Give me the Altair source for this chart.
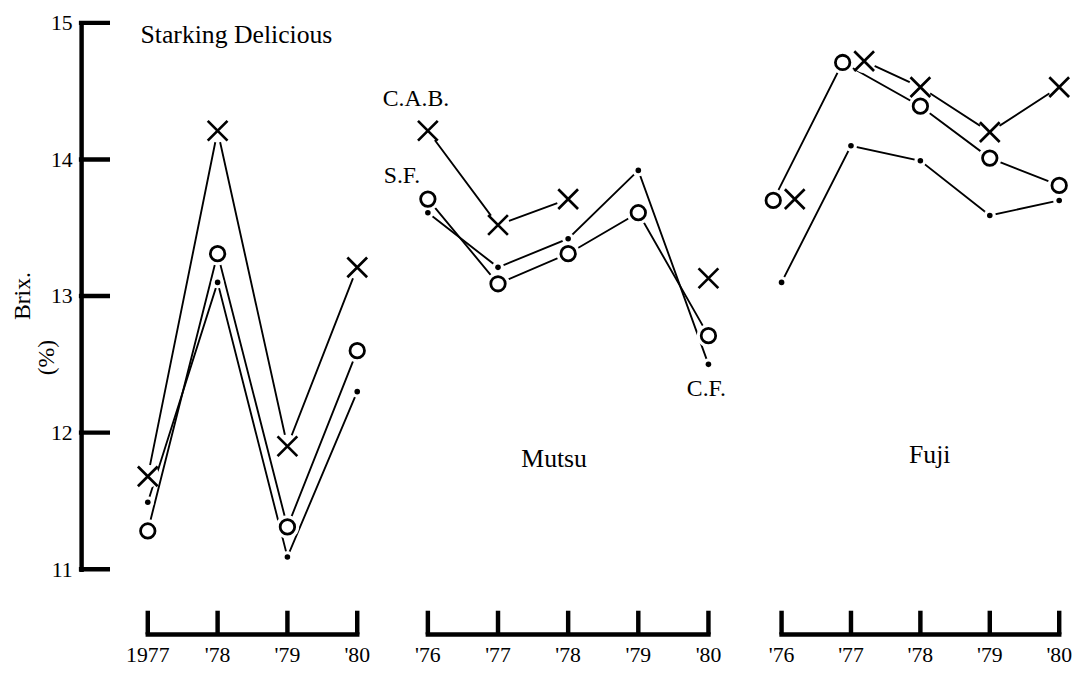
import altair as alt
import pandas as pd

FONT = "Liberation Serif"

# ---------------- data ----------------
series = ["C.A.B.", "S.F.", "C.F."]

sd_years = [1977, 1978, 1979, 1980]
sd_labels = ["1977", "'78", "'79", "'80"]
sd_cab = [11.68, 14.21, 11.90, 13.21]
sd_sf = [11.28, 13.31, 11.31, 12.60]
sd_cf = [11.49, 13.10, 11.09, 12.30]

mu_years = [1976, 1977, 1978, 1979, 1980]
mu_labels = ["'76", "'77", "'78", "'79", "'80"]
mu_cab = [14.21, 13.52, 13.71, None, 13.13]
mu_sf = [13.71, 13.09, 13.31, 13.61, 12.71]
mu_cf = [13.61, 13.21, 13.42, 13.92, 12.50]

fu_years = [1976, 1977, 1978, 1979, 1980]
fu_labels = ["'76", "'77", "'78", "'79", "'80"]
fu_cab = [13.71, 14.72, 14.53, 14.20, 14.53]
fu_sf = [13.70, 14.71, 14.39, 14.01, 13.81]
fu_cf = [13.10, 14.10, 13.99, 13.59, 13.70]

# points that are not joined to the next year
unjoined = [("Fuji", "C.A.B.", 1976)]

# annotations
ann_variety = ["Starking Delicious", "Mutsu", "Mutsu", "Mutsu", "Mutsu", "Fuji"]
ann_text = ["Starking Delicious", "C.A.B.", "S.F.", "C.F.", "Mutsu", "Fuji"]
ann_year = [1978.27, 1975.83, 1975.63, 1979.97, 1977.80, 1978.135]
ann_value = [14.85, 14.39, 13.83, 12.27, 11.745, 11.78]

ytitle_text = ["Brix.", "(%)"]
ytitle_year = [1975.31, 1975.66]
ytitle_value = [13.00, 12.55]

y_ticks = [11, 12, 13, 14, 15]

groups = [
    ("Starking Delicious", sd_years, sd_labels, [sd_cab, sd_sf, sd_cf]),
    ("Mutsu", mu_years, mu_labels, [mu_cab, mu_sf, mu_cf]),
    ("Fuji", fu_years, fu_labels, [fu_cab, fu_sf, fu_cf]),
]

rows = []
for v, yrs, _, vals_list in groups:
    for s, vals in zip(series, vals_list):
        seg = 0
        prev = None
        for yr, val in zip(yrs, vals):
            if val is None:
                seg += 1
                prev = None
                continue
            if prev is not None and (v, s, prev) in unjoined:
                seg += 1
            rows.append(dict(variety=v, series=s, year=yr, value=val,
                             seg=f"{v}|{s}|{seg}"))
            prev = yr
df = pd.DataFrame(rows)
ann_df = pd.DataFrame(dict(variety=ann_variety, text=ann_text,
                           year=ann_year, value=ann_value))
yt_df = pd.DataFrame(dict(text=ytitle_text, year=ytitle_year, value=ytitle_value))
tick_df = pd.DataFrame(dict(t=y_ticks))

# ---------------- layout ----------------
layout = {
    "Starking Delicious": ([1976.045, 1980.078], 285),
    "Mutsu": ([1975.634, 1980.113], 318),
    "Fuji": ([1975.63, 1980.128], 316),
}

XPATH = "M-1,-1L1,1M-1,1L1,-1"
DODGE = ("datum.year + ((datum.variety == 'Fuji' && datum.year <= 1977) ? "
         "(datum.series == 'C.A.B.' ? 0.19 : (datum.series == 'S.F.' ? -0.12 : 0)) : 0)")

yscale = alt.Scale(domain=[11, 15], nice=False, zero=False)
yaxis = alt.Axis(values=y_ticks, format="d", ticks=False, grid=False, title=None,
                 domainColor="black", domainWidth=4.5, domainCap="square",
                 labelFont=FONT, labelFontSize=22, labelColor="black",
                 labelPadding=9)


def top_panel(v, first):
    dom, w = layout[v]
    xs = alt.Scale(domain=dom, nice=False, zero=False)
    X = alt.X("xpos:Q", scale=xs, axis=None)
    Y = alt.Y("value:Q", scale=yscale, axis=yaxis if first else None)
    base = alt.Chart(df).transform_filter(alt.datum.variety == v).transform_calculate(xpos=DODGE)
    lines = base.mark_line(color="black", strokeWidth=1.9).encode(x=X, y=Y, detail="seg:N")
    halo = base.mark_circle(color="white", opacity=1).encode(
        x=X, y=Y,
        size=alt.condition(alt.datum.series == "C.F.", alt.value(150), alt.value(560)))
    cab = base.transform_filter(alt.datum.series == "C.A.B.").mark_point(
        shape=XPATH, size=400, strokeWidth=2.7, color="black", filled=False, opacity=1
    ).encode(x=X, y=Y)
    sf = base.transform_filter(alt.datum.series == "S.F.").mark_point(
        shape="circle", size=215, strokeWidth=2.8, color="black", filled=False, opacity=1
    ).encode(x=X, y=Y)
    cf = base.transform_filter(alt.datum.series == "C.F.").mark_circle(
        size=32, color="black", opacity=1
    ).encode(x=X, y=Y)
    texts = alt.Chart(ann_df).transform_filter(alt.datum.variety == v).mark_text(
        font=FONT, color="black", baseline="alphabetic", align="center"
    ).encode(x=alt.X("year:Q", scale=xs, axis=None),
             y=alt.Y("value:Q", scale=yscale, axis=yaxis if first else None),
             text="text:N",
             size=alt.condition("datum.text == 'C.A.B.' || datum.text == 'S.F.' || datum.text == 'C.F.'",
                                alt.value(24), alt.value(26)))
    layers = [lines, halo, cab, sf, cf, texts]
    if first:
        stubs = alt.Chart(tick_df).mark_rule(color="black", strokeWidth=4.5, strokeCap="square").encode(
            y=alt.Y("t:Q", scale=yscale, axis=yaxis), x=alt.value(0), x2=alt.value(27))
        ytitle = alt.Chart(yt_df).mark_text(
            font=FONT, fontSize=24, color="black", baseline="alphabetic", align="center", angle=270
        ).encode(x=alt.X("year:Q", scale=xs, axis=None),
                 y=alt.Y("value:Q", scale=yscale, axis=yaxis), text="text:N")
        layers = [stubs] + layers + [ytitle]
    return alt.layer(*layers).properties(width=w, height=553)


def axis_panel(v, yrs, labels):
    dom, w = layout[v]
    xs = alt.Scale(domain=dom, nice=False, zero=False)
    ys = alt.Scale(domain=[0, 1], nice=False, zero=False)
    d = pd.DataFrame(dict(year=yrs, label=labels))
    base = alt.Chart(d).transform_calculate(lo="0", hi="1")
    ticks = base.mark_rule(color="black", strokeWidth=4.5).encode(
        x=alt.X("year:Q", scale=xs, axis=None),
        y=alt.Y("lo:Q", scale=ys, axis=None), y2="hi:Q")
    baseline = base.transform_aggregate(start="min(year)", end="max(year)").transform_calculate(
        lo="0").mark_rule(color="black", strokeWidth=4.5, strokeCap="square").encode(
        x=alt.X("start:Q", scale=xs, axis=None), x2="end:Q",
        y=alt.Y("lo:Q", scale=ys, axis=None))
    text = base.mark_text(font=FONT, fontSize=22, color="black", baseline="middle", dy=21).encode(
        x=alt.X("year:Q", scale=xs, axis=None),
        y=alt.Y("lo:Q", scale=ys, axis=None), text="label:N")
    return alt.layer(ticks, baseline, text).properties(width=w, height=24)


panels = [top_panel(v, i == 0) for i, (v, _, _, _) in enumerate(groups)]
axes = [axis_panel(v, yrs, labs) for v, yrs, labs, _ in groups]

chart = alt.concat(*panels, *axes, columns=3, spacing={"row": 42, "column": 40},
                   bounds="flush").resolve_scale(
    x="independent", y="independent"
).configure_view(stroke=None).properties(
    padding={"left": 3, "top": 0, "right": 0, "bottom": 4}, background="white"
)

chart.save("out.html", embed_options={"renderer": "svg", "actions": False})
